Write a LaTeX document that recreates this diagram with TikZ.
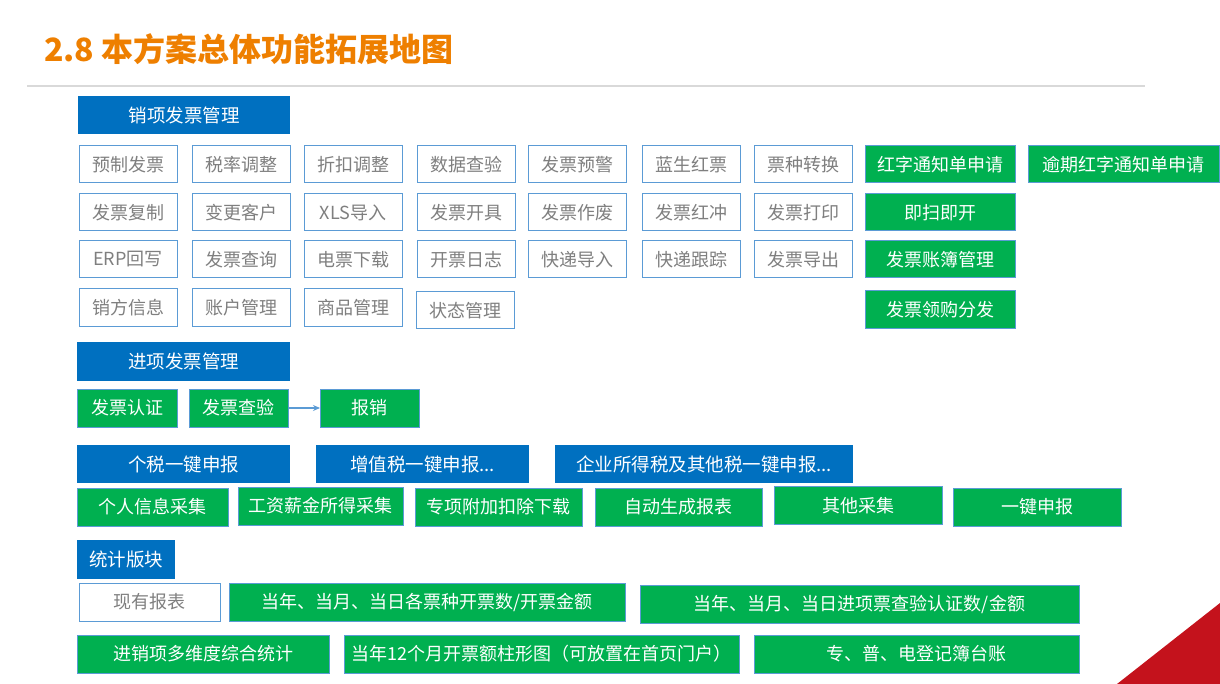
\documentclass[tikz,border=0pt]{standalone}
\usepackage{fontspec}
\setmainfont{Noto Sans CJK SC}
\usepackage{xcolor}
\usepackage{tikz}
\usetikzlibrary{arrows.meta}
\definecolor{titleorange}{HTML}{EE7F00}
\definecolor{headblue}{HTML}{0070C0}
\definecolor{newgreen}{HTML}{00B050}
\definecolor{edgeblue}{HTML}{5B9BD5}
\definecolor{itemgray}{HTML}{7F7F7F}
\definecolor{rulegray}{HTML}{D9D9D9}
\definecolor{cornerred}{HTML}{C4121C}

\tikzset{
  box/.style={anchor=north west, inner sep=0pt, outer sep=0pt,
    minimum width=98, minimum height=37, font=\fontsize{18}{20}\selectfont},
  headbox/.style={box, fill=headblue, text=white, minimum width=212, minimum height=38,
    font=\fontsize{18.5}{20}\selectfont},
  oldbox/.style={box, draw=edgeblue, line width=1pt, fill=white, text=itemgray},
  newbox/.style={box, draw=edgeblue, line width=1pt, fill=newgreen, text=white},
  flowline/.style={draw=edgeblue, line width=1.2pt, -{Stealth[length=7pt, width=6pt]}}
}

\begin{document}
\begin{tikzpicture}[x=1pt, y=-1pt]
\useasboundingbox (0,0) rectangle (1220,684);

% Title and rule
\node[anchor=west, inner sep=0pt, text=titleorange, font=\fontsize{32}{34}\selectfont\bfseries]
  (title) at (44,49) {2.8 本方案总体功能拓展地图};
\draw[rulegray, line width=2.5pt] (27,86) -- (1145,86);

% Corner decoration
\fill[cornerred] (1117,684) -- (1220,603) -- (1220,684) -- cycle;

% Sales invoices
\node[headbox] (sales) at (78,96) {销项发票管理};

\node[oldbox] (prepare) at (79,146) {预制发票};
\node[oldbox] (taxrate) at (192,146) {税率调整};
\node[oldbox] (discount) at (304,146) {折扣调整};
\node[oldbox] (datacheck) at (417,146) {数据查验};
\node[oldbox] (warning) at (528,146) {发票预警};
\node[oldbox] (bluered) at (642,146) {蓝生红票};
\node[oldbox] (kindswap) at (754,146) {票种转换};
\node[newbox, minimum width=150] (rednotice) at (865,146) {红字通知单申请};
\node[newbox, minimum width=191.5] (overdue) at (1028,146) {逾期红字通知单申请};

\node[oldbox] (copy) at (79,194) {发票复制};
\node[oldbox] (client) at (192,194) {变更客户};
\node[oldbox] (xls) at (304,194) {XLS导入};
\node[oldbox] (issue) at (417,194) {发票开具};
\node[oldbox] (void) at (528,194) {发票作废};
\node[oldbox] (redflush) at (642,194) {发票红冲};
\node[oldbox] (print) at (754,194) {发票打印};
\node[newbox, minimum width=150] (scan) at (865,194) {即扫即开};

\node[oldbox] (erp) at (79,241) {ERP回写};
\node[oldbox] (query) at (192,241) {发票查询};
\node[oldbox] (download) at (304,241) {电票下载};
\node[oldbox] (log) at (417,241) {开票日志};
\node[oldbox] (expin) at (528,241) {快递导入};
\node[oldbox] (track) at (642,241) {快递跟踪};
\node[oldbox] (export) at (754,241) {发票导出};
\node[newbox, minimum width=150] (ledger) at (865,241) {发票账簿管理};

\node[oldbox, minimum height=38] (seller) at (79,289) {销方信息};
\node[oldbox, minimum height=38] (account) at (192,289) {账户管理};
\node[oldbox, minimum height=38] (goods) at (304,289) {商品管理};
\node[oldbox] (status) at (416,292) {状态管理};
\node[newbox, minimum width=150, minimum height=38] (purchase) at (865,291) {发票领购分发};

% Purchase invoices
\node[headbox, minimum width=213, minimum height=39] (input) at (77,342) {进项发票管理};
\node[newbox, minimum width=100, minimum height=38] (certify) at (77,389) {发票认证};
\node[newbox, minimum width=99, minimum height=38] (verify) at (189,389) {发票查验};
\node[newbox, minimum width=99, minimum height=38] (reimburse) at (320,389) {报销};
\draw[flowline] (verify) -- (reimburse);

% Tax declaration
\node[headbox, minimum width=213] (pit) at (77,445) {个税一键申报};
\node[headbox, minimum width=213] (vat) at (316,445) {增值税一键申报...};
\node[headbox, minimum width=298] (cit) at (555,445) {企业所得税及其他税一键申报...};

\node[newbox, minimum width=151, minimum height=38] (person) at (77,488) {个人信息采集};
\node[newbox, minimum width=165, minimum height=38] (salary) at (238,487) {工资薪金所得采集};
\node[newbox, minimum width=167, minimum height=38] (special) at (415,488) {专项附加扣除下载};
\node[newbox, minimum width=167, minimum height=38] (report) at (595,488) {自动生成报表};
\node[newbox, minimum width=168, minimum height=38] (other) at (774,486.5) {其他采集};
\node[newbox, minimum width=168, minimum height=38] (declare) at (953,488) {一键申报};

% Statistics
\node[headbox, minimum width=98, minimum height=39] (stats) at (77,540) {统计版块};
\node[oldbox, minimum width=141, minimum height=38] (existing) at (79,583) {现有报表};
\node[newbox, minimum width=396, minimum height=38] (salescount) at (229,583) {当年、当月、当日各票种开票数/开票金额};
\node[newbox, minimum width=439, minimum height=38] (inputcount) at (640,585) {当年、当月、当日进项票查验认证数/金额};

\node[newbox, minimum width=252, minimum height=38] (multi) at (77,635) {进销项多维度综合统计};
\node[newbox, minimum width=395, minimum height=38] (chart) at (344,635) {当年12个月开票额柱形图（可放置在首页门户）};
\node[newbox, minimum width=325, minimum height=38] (register) at (754,635) {专、普、电登记簿台账};

\end{tikzpicture}
\end{document}
